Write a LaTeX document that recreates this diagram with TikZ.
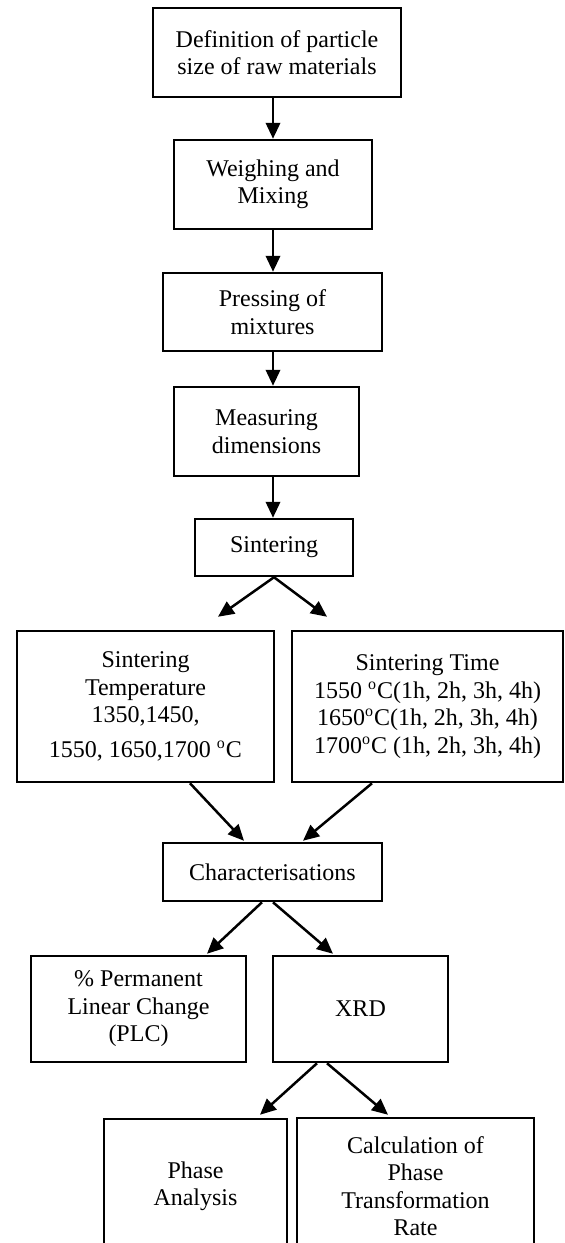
\documentclass[tikz,border=0pt]{standalone}
\usepackage{fontspec}
\setmainfont{Liberation Serif}
\usetikzlibrary{arrows.meta,calc}
\begin{document}
\begin{tikzpicture}[x=0.5pt,y=-0.5pt,
  box/.style={draw, line width=1.25pt, align=center, inner sep=0pt,
    font=\fontsize{12}{13.75}\selectfont},
  arr/.style={line width=1.25pt, -{Triangle[length=8pt,width=7.2pt]}}]
\clip (0,0) rectangle (565,1243);
\fill[white] (0,0) rectangle (565,1243);

\node[box, minimum width=124pt, minimum height=44.5pt] (def) at (277,52.5) {Definition of particle\\size of raw materials};
\node[box, minimum width=99pt, minimum height=44.5pt] (weigh) at (273,184.5) {\raisebox{2.5pt}{\begin{tabular}{@{}c@{}}Weighing and\\Mixing\end{tabular}}};
\node[box, minimum width=109.5pt, minimum height=39pt] (press) at (272.5,312) {Pressing of\\mixtures};
\node[box, minimum width=92.5pt, minimum height=44.5pt] (meas) at (266.5,431.5) {Measuring\\dimensions};
\node[box, minimum width=79pt, minimum height=28.5pt] (sint) at (274,547.5) {Sintering};
\node[box, minimum width=128.5pt, minimum height=75.5pt] (temp) at (145.5,706.5) {Sintering\\Temperature\\1350,1450,\\[3.75pt]1550, 1650,1700 \textsuperscript{o}C};
\node[box, minimum width=135.5pt, minimum height=75.5pt] (time) at (427.5,706.5) {Sintering Time\\1550 \textsuperscript{o}C(1h, 2h, 3h, 4h)\\1650\textsuperscript{o}C(1h, 2h, 3h, 4h)\\1700\textsuperscript{o}C (1h, 2h, 3h, 4h)};
\node[box, minimum width=109.5pt, minimum height=29pt] (char) at (272.5,872) {Characterisations};
\node[box, minimum width=107.5pt, minimum height=53pt] (plc) at (138.5,1009) {\% Permanent\\Linear Change\\(PLC)};
\node[box, minimum width=87.5pt, minimum height=53pt] (xrd) at (360.5,1009) {XRD};
\node[box, minimum width=91.5pt, minimum height=67pt] (phase) at (195.5,1186) {Phase\\Analysis};
\node[box, minimum width=118.5pt, minimum height=68pt] (calc) at (415.5,1186) {Calculation of\\Phase\\Transformation\\Rate};

% vertical chain
\draw[arr] (def.south -| weigh.north) -- (weigh.north);
\draw[arr] (weigh.south) -- (weigh.south |- press.north);
\draw[arr] (weigh.south |- press.south) -- (weigh.south |- meas.north);
\draw[arr] (weigh.south |- meas.south) -- (weigh.south |- sint.north);

% branch from sintering
\coordinate (t1) at ($(temp.north)+(72.5,-13)$);
\coordinate (t2) at ($(time.north)+(-100.5,-13)$);
\draw[arr] (sint.south) -- (t1);
\draw[arr] (sint.south) -- (t2);

% merge into characterisations
\coordinate (c1) at ($(char.north)+(-28.5,-1)$);
\coordinate (c2) at ($(char.north)+(30.5,-1)$);
\draw[arr] ($(temp.south)+(44.5,0)$) -- (c1);
\draw[arr] ($(time.south)+(-55.5,0)$) -- (c2);

% characterisations to PLC / XRD
\coordinate (p1) at ($(plc.north)+(68.5,-1)$);
\coordinate (x1) at ($(xrd.north)+(-27.5,-1)$);
\draw[arr] ($(char.south)+(-10.5,0)$) -- (p1);
\draw[arr] ($(char.south)+(0.5,0)$) -- (x1);

% XRD to phase / calc
\coordinate (ph1) at ($(phase.north)+(64.5,-3)$);
\coordinate (ca1) at ($(calc.north)+(-27.5,-2)$);
\draw[arr] ($(xrd.south)+(-43.5,0)$) -- (ph1);
\draw[arr] ($(xrd.south)+(-33.5,0)$) -- (ca1);
\end{tikzpicture}
\end{document}
